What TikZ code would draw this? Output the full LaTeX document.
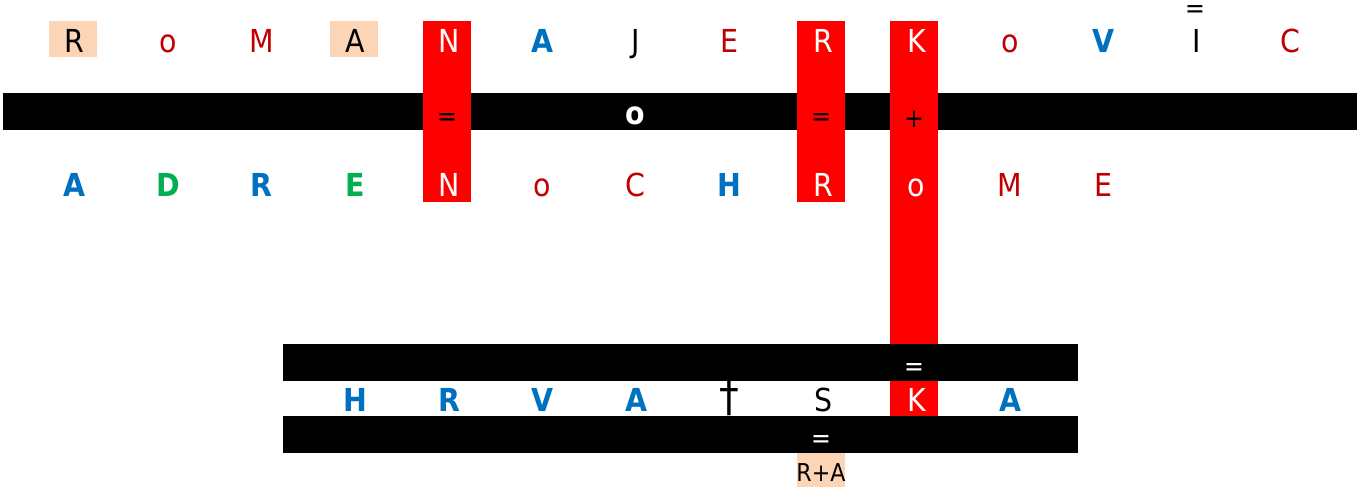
\documentclass[tikz,border=0pt]{standalone}
\usepackage{fontspec}
\setmainfont{DejaVu Sans Condensed}
\usepackage{xcolor}
\definecolor{darkred}{RGB}{192, 0, 0}
\definecolor{blueletter}{RGB}{0, 112, 192}
\definecolor{greenletter}{RGB}{0, 176, 80}
\definecolor{peach}{RGB}{251, 213, 181}
\definecolor{brightred}{RGB}{255, 0, 0}
\usetikzlibrary{positioning}

\begin{document}
\begin{tikzpicture}[x=0.02cm, y=-0.02cm,
		letter/.style={inner sep=0pt, anchor=base, font=\fontsize{18}{20}\selectfont},
		plain/.style={letter, text=black},
		dark/.style={letter, text=darkred},
		onred/.style={letter, text=white},
		bluebold/.style={letter, text=blueletter, font=\fontsize{18}{20}\selectfont\bfseries},
		greenbold/.style={letter, text=greenletter, font=\fontsize{18}{20}\selectfont\bfseries},
		crossmark/.style={letter, text=black, font=\fontsize{25}{27}\selectfont},
		sign/.style={inner sep=0pt, font=\fontsize{15}{17}\selectfont}]
		\useasboundingbox (0,0) rectangle (1359,487);
		% boxes and bars
		\fill[peach] (49,21) rectangle (97,57);
		\fill[peach] (330,21) rectangle (378,57);
		\fill[black] (3,93) rectangle (1357,130);
		\fill[brightred] (423,21) rectangle (471,202);
		\fill[brightred] (797,21) rectangle (845,202);
		\fill[brightred] (890,21) rectangle (938,416);
		\fill[black] (283,344) rectangle (1078,381);
		\fill[black] (283,416) rectangle (1078,453);
		\fill[peach] (797,453) rectangle (845,487);
		% top row
		\foreach \ch/\st [count=\i] in {R/plain, o/dark, M/dark, A/plain, N/onred, A/bluebold, J/plain,
				E/dark, R/onred, K/onred, o/dark, V/bluebold, I/plain, C/dark}
			\node[\st] (top\i) at ({74.5+93.55*(\i-1)},52) {\ch};
		\node[sign] (bar) at (1195,12) {=};
		% middle bar
		\node[sign] (eqN) at (447,120) {=};
		\node[letter, text=white, font=\fontsize{18}{20}\selectfont\bfseries] (mido) at (635,124) {o};
		\node[sign] (eqR) at (821,120) {=};
		\node[sign] (plusK) at (914,119) {+};
		% bottom row
		\foreach \ch/\st [count=\i] in {A/bluebold, D/greenbold, R/bluebold, E/greenbold, N/onred, o/dark,
				C/dark, H/bluebold, R/onred, o/onred, M/dark, E/dark}
			\node[\st] (bot\i) at ({74.5+93.55*(\i-1)},196) {\ch};
		% lower block
		\node[sign, text=white] (eqK) at (914,370) {=};
		\foreach \ch/\st [count=\i] in {H/bluebold, R/bluebold, V/bluebold, A/bluebold, †/crossmark, S/plain,
				K/onred, A/bluebold}
			\node[\st] (hr\i) at ({355.5+93.55*(\i-1)},411) {\ch};
		\node[sign, text=white] (eqS) at (821,442) {=};
		\node[letter, font=\fontsize{14}{16}\selectfont] (ra) at (821,481) {R+A};
	\end{tikzpicture}
\end{document}
